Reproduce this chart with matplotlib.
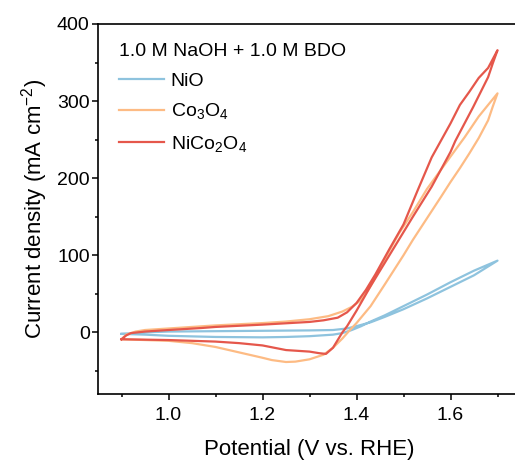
import numpy as np
import matplotlib.pyplot as plt

plt.rcParams['font.family'] = ['Liberation Sans', 'DejaVu Sans']
plt.rcParams['mathtext.fontset'] = 'custom'
plt.rcParams['mathtext.rm'] = 'Liberation Sans'

# NiO loop: forward then return sweep (V, mA cm-2)
nio_fwd_v = [0.90, 0.95, 1.00, 1.10, 1.20, 1.30, 1.35, 1.38, 1.40, 1.43, 1.46, 1.50, 1.55, 1.60, 1.65, 1.70]
nio_fwd_j = [-2, 0, 1, 1.5, 2, 2.5, 3, 5, 8, 13, 20, 30, 44, 59, 74, 93]
nio_rev_v = [1.70, 1.65, 1.60, 1.55, 1.50, 1.46, 1.43, 1.41, 1.39, 1.37, 1.35, 1.30, 1.25, 1.20, 1.10, 1.00, 0.95, 0.90]
nio_rev_j = [93, 80, 65, 49, 34, 22, 14, 8, 3, -1, -3, -5, -6, -6.5, -6, -4.5, -3, -2]

# Co3O4 loop
co_fwd_v = [0.90, 0.91, 0.93, 0.95, 1.00, 1.05, 1.10, 1.15, 1.20, 1.25, 1.30, 1.34, 1.37, 1.39, 1.41,
            1.43, 1.45, 1.47, 1.49, 1.52, 1.55, 1.60, 1.63, 1.66, 1.70]
co_fwd_j = [-9, -3, 1, 3, 5, 7, 9, 10.5, 12, 14, 17, 21, 27, 33, 42,
            60, 83, 106, 128, 156, 186, 228, 253, 280, 310]
co_rev_v = [1.70, 1.69, 1.68, 1.66, 1.64, 1.62, 1.60, 1.58, 1.55, 1.52, 1.50, 1.46, 1.43, 1.40, 1.386,
            1.37, 1.35, 1.33, 1.30, 1.27, 1.25, 1.22, 1.20, 1.15, 1.10, 1.05, 1.00, 0.95, 0.90]
co_rev_j = [310, 293, 275, 252, 232, 213, 195, 176, 148, 120, 100, 62, 34, 12, 3,
            -8, -20, -29, -35, -38, -38.5, -36, -33, -26, -19, -14, -11, -10, -9]

# NiCo2O4 loop
nc_fwd_v = [0.90, 0.91, 0.92, 0.95, 1.00, 1.07, 1.10, 1.20, 1.30, 1.33, 1.36, 1.38, 1.40, 1.42, 1.44,
            1.47, 1.50, 1.53, 1.56, 1.60, 1.62, 1.64, 1.66, 1.68, 1.70]
nc_fwd_j = [-9, -4, -1, 1, 3, 5.6, 7, 10, 13.5, 15.6, 19, 26, 38, 55, 75,
            108, 140, 184, 227, 271, 295, 312, 330, 343, 366]
nc_rev_v = [1.70, 1.69, 1.68, 1.648, 1.61, 1.60, 1.56, 1.52, 1.49, 1.46, 1.43, 1.40, 1.38, 1.37, 1.36,
            1.35, 1.335, 1.32, 1.30, 1.25, 1.20, 1.15, 1.10, 1.05, 1.00, 0.95, 0.90]
nc_rev_j = [366, 349, 331, 292, 248, 234, 189, 150, 120, 90, 60, 28, 8, 0, -10,
            -20, -28, -27, -25, -23, -17, -14, -12, -11, -10, -9.5, -9]

labels = ['NiO', r'Co$_3$O$_4$', r'NiCo$_2$O$_4$']
colors = ['#8ec3de', '#fdbb84', '#e5574b']

fig = plt.figure(figsize=(5.15, 4.62), dpi=100)
ax = fig.add_axes([98/515, 68/462, 423/515, 370/462])

loops = [(nio_fwd_v, nio_fwd_j, nio_rev_v, nio_rev_j),
         (co_fwd_v, co_fwd_j, co_rev_v, co_rev_j),
         (nc_fwd_v, nc_fwd_j, nc_rev_v, nc_rev_j)]
for (fv, fj, rv, rj), lab, c in zip(loops, labels, colors):
    v = np.concatenate([fv, rv[1:]])
    j = np.concatenate([fj, rj[1:]])
    ax.plot(v, j, color=c, lw=1.6, label=lab)

ax.set_xlim(0.85, 1.75)
ax.set_ylim(-80, 400)
ax.set_xticks([1.0, 1.2, 1.4, 1.6])
ax.set_xticks(np.arange(0.9, 1.75, 0.2), minor=True)
ax.set_yticks([0, 100, 200, 300, 400])
ax.set_yticks([-50, 50, 150, 250, 350], minor=True)
ax.tick_params(which='major', direction='out', length=4, width=1.1, labelsize=14, pad=2)
ax.tick_params(axis='x', which='major', pad=5)
ax.tick_params(which='minor', direction='out', length=2.5, width=1.1)
for s in ['left', 'bottom', 'top']:
    ax.spines[s].set_linewidth(1.2)
ax.spines['right'].set_visible(False)

ax.set_xlabel('Potential (V vs. RHE)', fontsize=16, labelpad=11)
ax.set_ylabel('Current density (mA cm$^{-2}$)', fontsize=16, labelpad=5)

leg = ax.legend(title='1.0 M NaOH + 1.0 M BDO', loc='upper left', frameon=False,
                fontsize=14, title_fontsize=14, handlelength=2.3, handletextpad=0.35,
                labelspacing=0.62, borderaxespad=0.3, alignment='left',
                bbox_to_anchor=(0.018, 0.985))

fig.savefig('out.png', dpi=100)
